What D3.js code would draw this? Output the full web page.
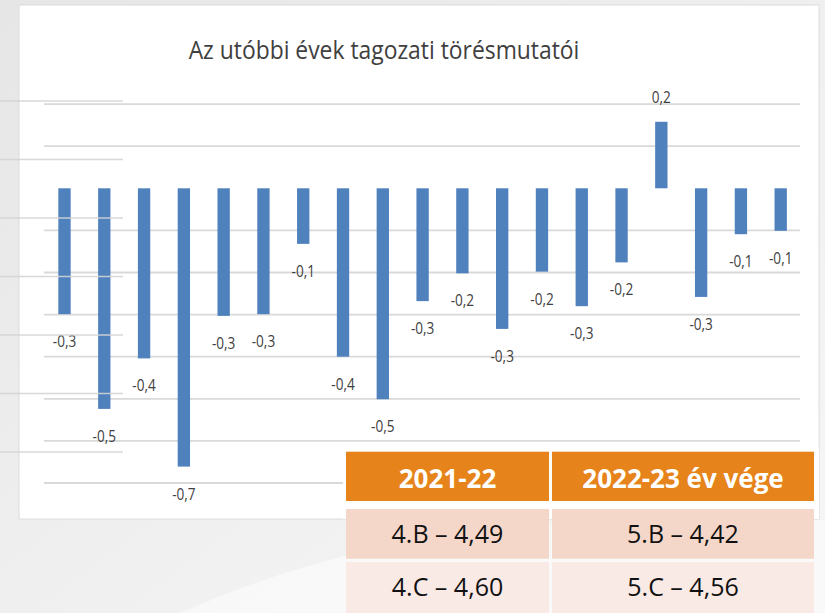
<!DOCTYPE html>
<html>
<head>
<meta charset="utf-8">
<script src="https://cdn.jsdelivr.net/npm/d3@7"></script>
<style>
html,body{margin:0;padding:0;background:#ededee;}
svg{display:block;}
</style>
</head>
<body>
<svg id="chart" width="825" height="613"></svg>
<script>
// ---- data ----
const title = "Az utóbbi évek tagozati törésmutatói";
const categories = ["1","2","3","4","5","6","7","8","9","10","11","12","13","14","15","16","17","18","19"];
const values = [-0.299,-0.524,-0.404,-0.661,-0.303,-0.299,-0.132,-0.400,-0.501,-0.268,-0.202,-0.334,-0.198,-0.280,-0.176,0.158,-0.258,-0.109,-0.101];
const tickValues = [-0.7,-0.6,-0.5,-0.4,-0.3,-0.2,-0.1,0,0.1,0.2];
const tableHeader = ["2021-22","2022-23 év vége"];
const tableRows = [["4.B – 4,49","5.B – 4,42"],["4.C – 4,60","5.C – 4,56"]];

// ---- drawing ----
const svg = d3.select("#chart");
const defs = svg.append("defs");
const bg = defs.append("linearGradient").attr("id","bg").attr("x1","0").attr("y1","0").attr("x2","1").attr("y2","1");
bg.append("stop").attr("offset","0").attr("stop-color","#e6e6e7");
bg.append("stop").attr("offset","0.6").attr("stop-color","#f1f1f2");
bg.append("stop").attr("offset","1").attr("stop-color","#f6f6f6");
svg.append("rect").attr("width",825).attr("height",613).attr("fill","url(#bg)");
// soft white swoosh in background
svg.append("path")
  .attr("d","M180,613 C300,560 420,530 600,520 L825,520 L825,613 Z")
  .attr("fill","#fafafa").attr("opacity",0.8);

// white chart panel
svg.append("rect").attr("x",19).attr("y",5).attr("width",800).attr("height",514)
  .attr("fill","#ffffff").attr("stroke","#dcdcdc").attr("stroke-width",1);

const x = d3.scaleBand().domain(categories).range([44.6,800.6]).paddingInner(0.69).paddingOuter(0.345);
const y = d3.scaleLinear().domain([-0.7,0.2]).range([483,104.1]);

// gridlines
svg.append("g").selectAll("line").data(tickValues.filter(t => t !== 0)).join("line")
  .attr("x1",44).attr("x2",800)
  .attr("y1",d => y(d)).attr("y2",d => y(d))
  .attr("stroke","#d9d9d9").attr("stroke-width",1.8);

// title
svg.append("text").attr("transform","translate(384,59) scale(0.88,1)").attr("text-anchor","middle")
  .attr("font-family","'Open Sans', sans-serif").attr("font-size",26)
  .attr("fill","#404040").text(title);

// bars
svg.append("g").selectAll("rect").data(values).join("rect")
  .attr("x",(d,i) => x(categories[i]))
  .attr("width",x.bandwidth())
  .attr("y",d => y(Math.max(0,d)))
  .attr("height",d => Math.abs(y(d) - y(0)))
  .attr("fill","#4f81bd");

// data labels
const fmt = d3.format(".1f");
svg.append("g").selectAll("text").data(values).join("text")
  .attr("transform",(d,i) => {
    const cx = x(categories[i]) + x.bandwidth()/2;
    const cy = d < 0 ? y(d) + 33 : y(d) - 19;
    return `translate(${cx},${cy}) scale(0.8,1)`;
  })
  .attr("text-anchor","middle")
  .attr("font-family","'Open Sans', sans-serif").attr("font-size",17)
  .attr("fill","#404040")
  .text(d => fmt(d).replace("−","-").replace(".",","));

// decorative left lines (background slide element)
const decoY = [101,159.5,218,276.5,335,393.5,452];
svg.append("g").selectAll("line").data(decoY).join("line")
  .attr("x1",0).attr("x2",123).attr("y1",d=>d).attr("y2",d=>d)
  .attr("stroke","#d4d4d4").attr("stroke-width",1.5).attr("opacity",0.9);

// table
const tbl = svg.append("g");
tbl.append("rect").attr("x",343).attr("y",449).attr("width",476).attr("height",70).attr("fill","#ffffff");
const colX = [346,552], colW = [203,262];
const rowY = [451.7,509,562], rowH = [49.3,49.7,55];
const rowFill = ["#e6831a","#f5d7ca","#faeae5"];
tableHeader.forEach((h,c) => {
  tbl.append("rect").attr("x",colX[c]).attr("y",rowY[0]).attr("width",colW[c]).attr("height",rowH[0]).attr("fill",rowFill[0]);
  tbl.append("text").attr("x",colX[c]+colW[c]/2).attr("y",488.3).attr("text-anchor","middle")
    .attr("font-family","'Open Sans', sans-serif").attr("font-weight","bold").attr("font-size",26)
    .attr("fill","#ffffff").text(h);
});
tableRows.forEach((row,r) => {
  row.forEach((cell,c) => {
    tbl.append("rect").attr("x",colX[c]).attr("y",rowY[r+1]).attr("width",colW[c]).attr("height",rowH[r+1]).attr("fill",rowFill[r+1]);
    tbl.append("text").attr("x",colX[c]+colW[c]/2).attr("y",rowY[r+1]+34).attr("text-anchor","middle")
      .attr("font-family","'Open Sans', sans-serif").attr("font-size",25)
      .attr("fill","#111111").text(cell);
  });
});
</script>
</body>
</html>
